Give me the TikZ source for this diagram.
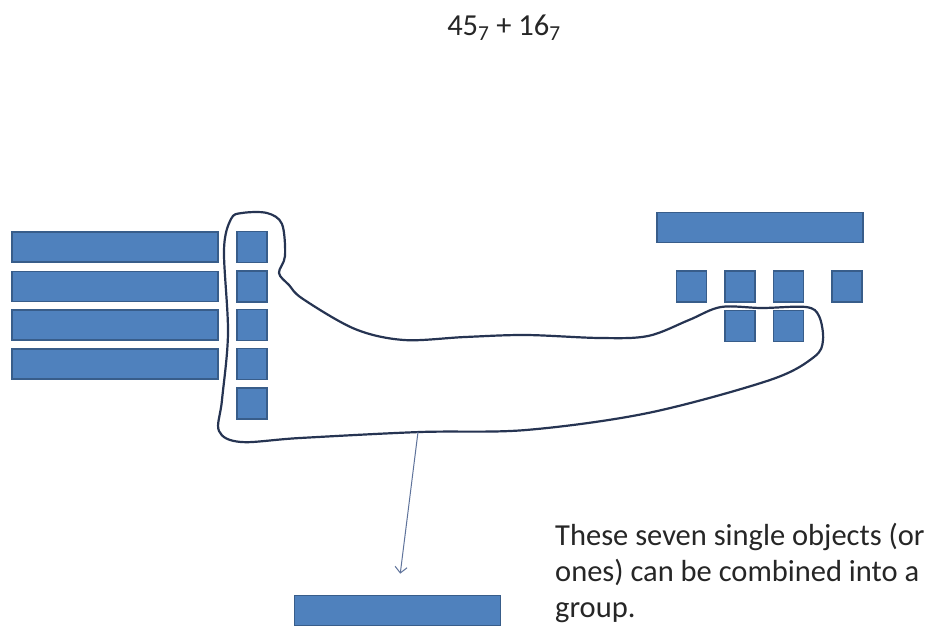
\documentclass[tikz,border=0pt]{standalone}
\usepackage{fontspec}
\setmainfont{Carlito}
\usetikzlibrary{arrows.meta}
\definecolor{blockfill}{HTML}{4F81BD}
\definecolor{blockline}{HTML}{385D8A}
\definecolor{lassoc}{RGB}{38,52,82}
\definecolor{arrowc}{RGB}{95,115,155}
\tikzset{
  blk/.style={draw=blockline, fill=blockfill, line width=1.5pt, inner sep=0pt, outer sep=0pt},
  bar/.style={blk, minimum width=206pt, minimum height=30pt},
  sq/.style={blk, minimum width=30pt, minimum height=31pt},
  lasso/.style={draw=lassoc, line width=2.2pt},
  pointer/.style={draw=arrowc, line width=1pt, -{Straight Barb[length=6pt,width=12pt]}},
  txt/.style={text=black!85, inner sep=0pt, font=\fontsize{30.5}{36}\selectfont}
}
\begin{document}
\begin{tikzpicture}[x=1pt,y=-1pt]
\useasboundingbox (0,0) rectangle (932,625);
\fill[white] (0,0) rectangle (932,625);
% title
\node[txt, anchor=base] (title) at (504,35) {45\textsubscript{7} + 16\textsubscript{7}};
% left tens
\node[bar] (l1) at (115,247) {};
\node[bar] (l2) at (115,286.5) {};
\node[bar] (l3) at (115,325) {};
\node[bar] (l4) at (115,364) {};
% left ones
\node[sq] (s1) at (252,247) {};
\node[sq] (s2) at (252,286.5) {};
\node[sq] (s3) at (252,325) {};
\node[sq] (s4) at (252,364) {};
\node[sq] (s5) at (252,403.5) {};
% right ten
\node[bar] (r1) at (760,227.5) {};
% right ones
\node[sq] (q1) at (691.5,286.5) {};
\node[sq] (q2) at (740,286.5) {};
\node[sq] (q3) at (788.5,286.5) {};
\node[sq] (q4) at (847,286.5) {};
\node[sq] (q5) at (740,326) {};
\node[sq] (q6) at (788.5,326) {};
% new ten
\node[bar] (b1) at (397.5,610.5) {};
% lasso
\draw[lasso] plot[smooth cycle, tension=0.55] coordinates {
 (231,219) (242,213) (267,213) (282,224) (285,256) (279,273) (289,285)
 (303,299) (355,329) (404,340) (465,337) (526,335) (600,338) (648,336)
 (689,320) (721,307) (762,308) (806,307) (819,316) (823,340) (814,357)
 (770,380) (648,413) (526,430) (420,432) (300,438) (241,442) (219,431)
 (222,400) (228,333) (224,250)};
\coordinate (lassoB) at (418,432);
\draw[pointer, shorten >=22pt] (lassoB) -- (b1.north);
% explanation
\node[txt, anchor=base west, align=left] (note) at (555,617)
 {These seven single objects (or\\ones) can be combined into a\\group.};
\end{tikzpicture}
\end{document}
